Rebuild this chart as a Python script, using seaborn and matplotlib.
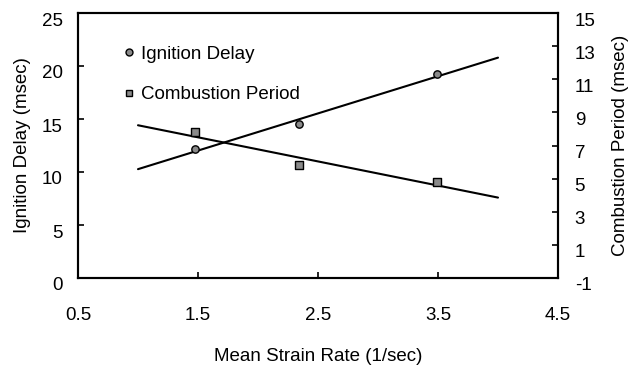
import numpy as np
import pandas as pd
import matplotlib
matplotlib.use("Agg")
import matplotlib.pyplot as plt
import matplotlib.transforms as mtransforms
from matplotlib.lines import Line2D
import seaborn as sns

# ---- data ----
strain_rate = [1.475, 2.34, 3.49]
ignition_delay = [12.2, 14.5, 19.2]
combustion_period = [7.8, 5.8, 4.8]
trend_x = [1.0, 4.0]
x_ticks = [0.5, 1.5, 2.5, 3.5, 4.5]
left_ticks = [0, 5, 10, 15, 20, 25]
right_ticks = [-1, 1, 3, 5, 7, 9, 11, 13, 15]

sns.set_theme(style="white")
plt.rcParams["font.family"] = ["Liberation Sans", "DejaVu Sans"]
plt.rcParams["text.color"] = "black"
plt.rcParams["axes.labelcolor"] = "black"
plt.rcParams["xtick.color"] = "black"
plt.rcParams["ytick.color"] = "black"

FS = 13.5

fig = plt.figure(figsize=(6.29, 3.67), dpi=100)
ax = fig.add_axes([78 / 629, 1 - 278 / 367, (558 - 78) / 629, (278 - 13) / 367])
ax2 = ax.twinx()

df = pd.DataFrame({"x": strain_rate, "ign": ignition_delay, "comb": combustion_period})

# trend lines (least squares, drawn over 1.0-4.0)
p1 = np.polyfit(strain_rate, ignition_delay, 1)
p2 = np.polyfit(strain_rate, combustion_period, 1)
tdf = pd.DataFrame({"x": trend_x,
                    "ign": np.polyval(p1, trend_x),
                    "comb": np.polyval(p2, trend_x)})

sns.lineplot(data=tdf, x="x", y="ign", ax=ax, color="black", linewidth=1.5, zorder=2)
sns.scatterplot(data=df, x="x", y="ign", ax=ax, marker="o", s=28, color="#8a8a8a",
                edgecolor="black", linewidth=1.0, zorder=3)
sns.lineplot(data=tdf, x="x", y="comb", ax=ax2, color="black", linewidth=1.5, zorder=2)
sns.scatterplot(data=df, x="x", y="comb", ax=ax2, marker="s", s=30, color="#8a8a8a",
                edgecolor="black", linewidth=1.0, zorder=3)

ax.set_xlim(0.5, 4.5)
ax.set_ylim(0, 25)
ax2.set_ylim(-1, 15)
ax.set_xticks(x_ticks)
ax.set_xticklabels([str(v) for v in x_ticks])
ax.set_yticks(left_ticks)
ax.set_yticklabels([str(v) for v in left_ticks])
ax2.set_yticks(right_ticks)
ax2.set_yticklabels([str(v) for v in right_ticks])

for a in (ax, ax2):
    for s in a.spines.values():
        s.set_color("black")
        s.set_linewidth(1.5)
ax.tick_params(axis="x", direction="in", length=4, width=1.2, color="black",
               labelcolor="black", labelsize=FS, pad=21, bottom=True)
ax.tick_params(axis="y", direction="in", length=4, width=1.2, color="black",
               labelcolor="black", labelsize=FS, pad=11, left=True)
ax2.tick_params(axis="y", direction="in", length=4, width=1.2, color="black",
                labelcolor="black", labelsize=FS, pad=12, right=True)

ax.set_xlabel("Mean Strain Rate (1/sec)", fontsize=FS, labelpad=17, color="black")
ax.set_ylabel("Ignition Delay (msec)", fontsize=FS, labelpad=8, color="black")
ax2.set_ylabel("Combustion Period (msec)", fontsize=FS, labelpad=12, color="black")

# shift y tick labels slightly down as in reference
off = mtransforms.ScaledTranslation(0, -6 / 100, fig.dpi_scale_trans)
for lab in ax.get_yticklabels() + ax2.get_yticklabels():
    lab.set_transform(lab.get_transform() + off)

handles = [
    Line2D([], [], marker="o", linestyle="none", markersize=5, markerfacecolor="#8a8a8a",
           markeredgecolor="black", markeredgewidth=1.0),
    Line2D([], [], marker="s", linestyle="none", markersize=5, markerfacecolor="#8a8a8a",
           markeredgecolor="black", markeredgewidth=1.0),
]
leg = ax.legend(handles, ["Ignition Delay", "Combustion Period"], loc="upper left",
                bbox_to_anchor=(0.06, 0.94), frameon=False, fontsize=FS,
                handlelength=0.6, handletextpad=0.3, labelspacing=1.25)
for t in leg.get_texts():
    t.set_color("black")

fig.savefig("out.png", dpi=100)
